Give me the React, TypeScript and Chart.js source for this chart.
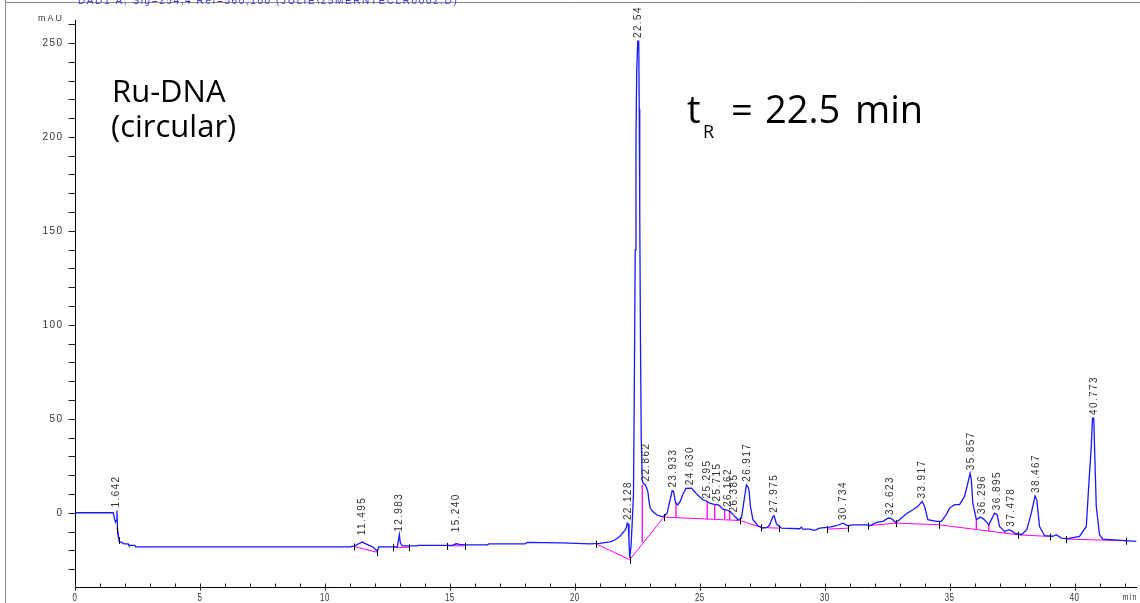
import React, { useEffect, useRef } from 'react';
import { Chart, registerables } from 'chart.js';
Chart.register(...registerables);

// ---- chromatogram trace (time in min, absorbance in mAU) ----
const timeMin = [
  0, 1.53, 1.58, 1.62, 1.66, 1.68, 1.7, 1.74, 1.77, 1.87, 1.96, 2.13, 2.16, 2.4, 2.42,
  11.0, 11.2, 11.35, 11.5, 11.6, 11.75, 11.95, 12.1, 12.15, 12.9, 12.95, 12.98, 13.02, 13.1,
  13.7, 13.75, 15.1, 15.25, 15.4, 15.6, 16.5, 16.56, 18.0, 18.1, 19.5, 20.6, 21.0, 21.4, 21.6,
  21.8, 22.0, 22.06, 22.1, 22.14, 22.17, 22.2, 22.25, 22.3, 22.35, 22.38, 22.42, 22.45, 22.48,
  22.52, 22.56, 22.58, 22.6, 22.63, 22.66, 22.7, 22.75, 22.82, 22.88, 22.93, 22.97, 23.02,
  23.12, 23.3, 23.47, 23.6, 23.7, 23.8, 23.9, 23.95, 24.03, 24.12, 24.22, 24.32, 24.45, 24.67,
  24.87, 25.0, 25.13, 25.3, 25.4, 25.6, 25.7, 25.8, 25.93, 26.05, 26.13, 26.25, 26.33, 26.45,
  26.53, 26.67, 26.76, 26.87, 26.93, 26.97, 27.03, 27.13, 27.33, 27.53, 27.7, 27.8, 27.93,
  27.98, 28.07, 28.27, 29.0, 29.07, 29.12, 29.4, 29.6, 29.8, 30.2, 30.47, 30.73, 30.93, 31.13,
  31.67, 31.8, 32.07, 32.33, 32.55, 32.65, 32.73, 32.84, 33.0, 33.27, 33.53, 33.73, 33.9, 34.0,
  34.13, 34.47, 34.67, 34.87, 35.0, 35.2, 35.4, 35.6, 35.73, 35.82, 35.87, 35.93, 36.07, 36.23,
  36.4, 36.57, 36.8, 36.9, 37.0, 37.2, 37.4, 37.6, 37.87, 38.09, 38.27, 38.42, 38.49, 38.6,
  38.8, 39.13, 39.27, 39.47, 39.73, 40.2, 40.47, 40.6, 40.67, 40.72, 40.77, 40.8, 40.87, 41.0,
  41.13, 42.47,
];
const absorbance = [
  0, 0, -3, -5, -4, 1.2, -9, -13, -15.3, -15.8, -16.5, -16.6, -17.4, -17.4, -18.2,
  -18.2, -17.6, -16.5, -15.6, -16.3, -17.2, -18.5, -20.6, -18.2, -18.2, -14, -11.7, -16, -17.6,
  -17.6, -17.3, -17.3, -16.5, -16.8, -17.1, -17.1, -16.6, -16.6, -15.8, -16, -16.5, -16.3, -15.5, -14.5,
  -12.6, -9.5, -8, -5.5, -6, -15, -24, -18, -5, 10, 60, 140, 200, 235,
  251, 251, 215, 160, 90, 40, 17, 15.5, 15, 13, 11, 6, 2.5,
  0.7, -1.2, -2, -1.6, 0, 6, 11.8, 11.5, 5.5, 4.2, 6, 9.6, 13, 13.1,
  10.1, 8.5, 6.9, 6, 5.1, 4.3, 4.4, 3.7, 1.9, 1.6, 1.2, 0.3, -1, -2.5,
  -3.7, -2.8, 5.1, 14.9, 14, 12.2, 3.4, -3.7, -6.9, -8.2, -7.8, -6.4, -2,
  -1.6, -5.9, -8.2, -8.5, -7.7, -8.7, -8.7, -9.4, -8.2, -7.6, -6.9, -5.5, -6.9, -6.4,
  -6.4, -6.9, -5.1, -4.6, -2.8, -3, -3.7, -5.1, -3.7, -0.5, 1.6, 3.4, 6, 3.4,
  -3.7, -4.6, -4.6, -1, 2.5, 4.3, 4.3, 8.7, 15.8, 21, 17.6, 5.1, -3.7, -2.3,
  -3.7, -6.4, -0.2, -1, -7.3, -9.9, -9, -10.8, -11.7, -9, -0.2, 8.9, 6.9, -7.3,
  -12.2, -12.5, -11.7, -13.5, -13.8, -12.6, -7.3, 21.1, 35.3, 50.4, 50.4, 35.3, 3.4, -11.7,
  -14, -15.2,
];

// ---- integration baselines (null = break between segments) ----
const baseTime = [
  1.7, 1.75, null, 11.16, 12.07, null, 12.73, 13.37, null, 14.87, 15.6, null,
  20.84, 22.2, 23.56, 26.6, 27.47, 28.17, null, 30.09, 30.93, null,
  31.73, 32.87, 34.57, 37.73, 39.0, null, 39.67, 42.07,
];
const baseValue = [
  -9, -14.5, null, -17.9, -21, null, -18.4, -18.4, null, -17.6, -17.6, null,
  -16.5, -25, -2.3, -4.1, -7.8, -8.2, null, -8.7, -8.2, null,
  -6.9, -5.5, -6.4, -11.7, -12.6, null, -14, -14.9,
];

// ---- peak drop lines ----
const dropTime = [22.7, 24.05, 25.3, 25.6, 26.0, 26.2, 36.07, 36.57, 37.2];
const dropFrom = [-15.5, -2.6, -3.3, -3.5, -3.7, -3.8, -8.6, -9.9, -10.8];
const dropTo = [15, 5.3, 6, 4.3, 1.7, 0.6, -3.7, -6.4, -9.9];

// ---- peak labels ----
const peakTimes = [
  1.642, 11.495, 12.983, 15.24, 22.128, 22.54, 22.862, 23.933, 24.63, 25.295, 25.715,
  26.162, 26.385, 26.917, 27.975, 30.734, 32.623, 33.917, 35.857, 36.296, 36.895, 37.478,
  38.467, 40.773,
];
const peakLabels = [
  '1.642', '11.495', '12.983', '15.240', '22.128', '22.54', '22.862', '23.933', '24.630',
  '25.295', '25.715', '26.162', '26.385', '26.917', '27.975', '30.734', '32.623', '33.917',
  '35.857', '36.296', '36.895', '37.478', '38.467', '40.773',
];
const peakHeights = [
  1.2, -13.5, -11.7, -12, -5.5, 251, 15, 11.8, 13.1, 6, 4.4, 1.5, -1.5, 14.9, -1.6, -5.5,
  -2.8, 6, 21, -2.3, -0.2, -9, 8.9, 50.4,
];

// ---- axes ----
const xMajorTicks = [0, 5, 10, 15, 20, 25, 30, 35, 40];
const xTickLabels = ['0', '5', '10', '15', '20', '25', '30', '35', '40'];
const xMinorTicks = [
  0, 1, 2, 3, 4, 5, 6, 7, 8, 9, 10, 11, 12, 13, 14, 15, 16, 17, 18, 19, 20, 21,
  22, 23, 24, 25, 26, 27, 28, 29, 30, 31, 32, 33, 34, 35, 36, 37, 38, 39, 40, 41, 42,
];
const yMajorTicks = [0, 50, 100, 150, 200, 250];
const yTickLabels = ['0', '50', '100', '150', '200', '250'];
const yMinorTicks = [
  -30, -20, -10, 0, 10, 20, 30, 40, 50, 60, 70, 80, 90, 100, 110, 120, 130, 140, 150,
  160, 170, 180, 190, 200, 210, 220, 230, 240, 250, 260,
];

const SMALL = "'Liberation Sans', Arial, sans-serif";
const BIG = "'Open Sans', sans-serif";

const decor = {
  id: 'decor',
  afterDraw(chart: any) {
    const ctx: CanvasRenderingContext2D = chart.ctx;
    const xs = chart.scales.x;
    const ys = chart.scales.y;
    const X = (v: number) => xs.getPixelForValue(v);
    const Y = (v: number) => ys.getPixelForValue(v);
    const area = chart.chartArea;
    ctx.save();

    // page frame
    ctx.strokeStyle = '#8a8a8a';
    ctx.lineWidth = 1;
    ctx.beginPath();
    ctx.moveTo(5.5, 0);
    ctx.lineTo(5.5, 603);
    ctx.moveTo(5, 2.5);
    ctx.lineTo(1140, 2.5);
    ctx.stroke();

    // header (clipped at the top of the page)
    (ctx as any).letterSpacing = '1.6px';
    ctx.font = `10px ${SMALL}`;
    ctx.fillStyle = '#3c3cd6';
    ctx.textAlign = 'left';
    ctx.textBaseline = 'alphabetic';
    ctx.fillText('DAD1 A, Sig=254,4 Ref=360,100 (JULIE\\25MERNTECLR0002.D)', 78, 4);

    // axes lines
    ctx.strokeStyle = '#000';
    ctx.lineWidth = 1;
    const ax = Math.round(area.left) + 0.5;
    const ay = Math.round(area.bottom) + 0.5;
    ctx.beginPath();
    ctx.moveTo(ax, area.top);
    ctx.lineTo(ax, ay + 3);
    ctx.moveTo(ax, ay);
    ctx.lineTo(area.right, ay);
    ctx.stroke();

    // y ticks
    ctx.strokeStyle = '#222';
    ctx.beginPath();
    yMinorTicks.forEach((v) => {
      const py = Math.round(Y(v)) + 0.5;
      ctx.moveTo(ax - 7, py);
      ctx.lineTo(ax, py);
    });
    // x ticks (inward)
    xMinorTicks.forEach((v) => {
      const px = Math.round(X(v)) + 0.5;
      const major = xMajorTicks.includes(v);
      ctx.moveTo(px, ay - 4);
      ctx.lineTo(px, ay + (major ? 3 : 0));
    });
    ctx.stroke();

    // tick labels
    ctx.fillStyle = '#333';
    ctx.font = `10px ${SMALL}`;
    (ctx as any).letterSpacing = '1.4px';
    ctx.textAlign = 'right';
    ctx.textBaseline = 'middle';
    yMajorTicks.forEach((v, i) => {
      ctx.fillText(yTickLabels[i], 63.5, Y(v));
    });
    ctx.font = `9px ${SMALL}`;
    (ctx as any).letterSpacing = '2px';
    ctx.fillText('mAU', 64, 19);
    (ctx as any).letterSpacing = '0.5px';
    ctx.textAlign = 'center';
    ctx.font = `11px ${SMALL}`;
    xMajorTicks.forEach((v, i) => {
      ctx.save();
      ctx.translate(X(v), 598);
      ctx.scale(0.72, 1.05);
      ctx.fillText(xTickLabels[i], 0, 0);
      ctx.restore();
    });
    ctx.save();
    ctx.translate(1130, 598);
    ctx.scale(0.8, 1);
    (ctx as any).letterSpacing = '1.5px';
    ctx.font = `9px ${SMALL}`;
    ctx.fillText('min', 0, 0);
    ctx.restore();

    // integration markers
    ctx.strokeStyle = '#000';
    ctx.beginPath();
    baseTime.forEach((t, i) => {
      if (t === null) return;
      const v = baseValue[i] as number;
      const px = Math.round(X(t)) + 0.5;
      const py = Y(v);
      ctx.moveTo(px, py - 3);
      ctx.lineTo(px, py + 4);
    });
    ctx.stroke();

    // peak labels
    ctx.fillStyle = '#333';
    ctx.font = `10px ${SMALL}`;
    (ctx as any).letterSpacing = '1.4px';
    ctx.textAlign = 'left';
    ctx.textBaseline = 'middle';
    peakTimes.forEach((t, i) => {
      ctx.save();
      ctx.translate(X(t), Y(peakHeights[i]) - 3);
      ctx.rotate(-Math.PI / 2);
      ctx.fillText(peakLabels[i], 0, 0);
      ctx.restore();
    });

    // annotations
    (ctx as any).letterSpacing = '0px';
    ctx.fillStyle = '#000';
    ctx.textBaseline = 'alphabetic';
    ctx.textAlign = 'left';
    ctx.font = `31px ${BIG}`;
    ctx.fillText('Ru-DNA', 112, 102);
    ctx.fillText('(circular)', 111, 137);
    ctx.font = `38px ${BIG}`;
    ctx.fillText('t', 687, 123);
    ctx.font = `18px ${BIG}`;
    ctx.fillText('R', 703, 138);
    ctx.font = `38px ${BIG}`;
    ctx.fillText('=', 731, 123);
    ctx.fillText('22.5', 765, 123);
    ctx.fillText('min', 855, 123);

    ctx.restore();
  },
};

export default function App() {
  const ref = useRef<HTMLCanvasElement>(null);
  useEffect(() => {
    document.body.style.margin = '0';
    const trace = timeMin.map((t, i) => ({ x: t, y: absorbance[i] }));
    const base = baseTime.map((t, i) =>
      t === null ? { x: baseTime[i - 1] as number, y: null } : { x: t, y: baseValue[i] }
    );
    const drops: any[] = [];
    dropTime.forEach((t, i) => {
      drops.push({ x: t, y: dropFrom[i] }, { x: t, y: dropTo[i] }, { x: t, y: null });
    });
    const chart = new Chart(ref.current as HTMLCanvasElement, {
      type: 'line',
      data: {
        datasets: [
          {
            data: trace as any,
            borderColor: 'rgb(25,25,255)',
            borderWidth: 1.3,
            pointRadius: 0,
            tension: 0,
          },
          {
            data: base as any,
            borderColor: '#ff00ff',
            borderWidth: 1,
            pointRadius: 0,
            spanGaps: false,
          },
          {
            data: drops,
            borderColor: '#ff00ff',
            borderWidth: 1.3,
            pointRadius: 0,
            spanGaps: false,
          },
        ],
      },
      options: {
        animation: false,
        responsive: false,
        devicePixelRatio: 1,
        events: [],
        parsing: false as any,
        layout: { padding: { top: 20, right: 3, left: 0, bottom: 0 } },
        plugins: { legend: { display: false }, tooltip: { enabled: false } },
        scales: {
          x: {
            type: 'linear',
            min: 0,
            max: 42.5,
            grid: { display: false, drawTicks: false },
            border: { display: false },
            ticks: { display: false },
            afterFit: (s: any) => {
              s.height = 16;
            },
          },
          y: {
            type: 'linear',
            min: -39.5,
            max: 262.2,
            grid: { display: false, drawTicks: false },
            border: { display: false },
            ticks: { display: false },
            afterFit: (s: any) => {
              s.width = 75;
            },
          },
        },
      },
      plugins: [decor],
    });
    return () => chart.destroy();
  }, []);
  return (
    <div style={{ width: 1140, height: 603, background: '#fff' }}>
      <canvas ref={ref} width={1140} height={603} style={{ display: 'block' }} />
    </div>
  );
}
